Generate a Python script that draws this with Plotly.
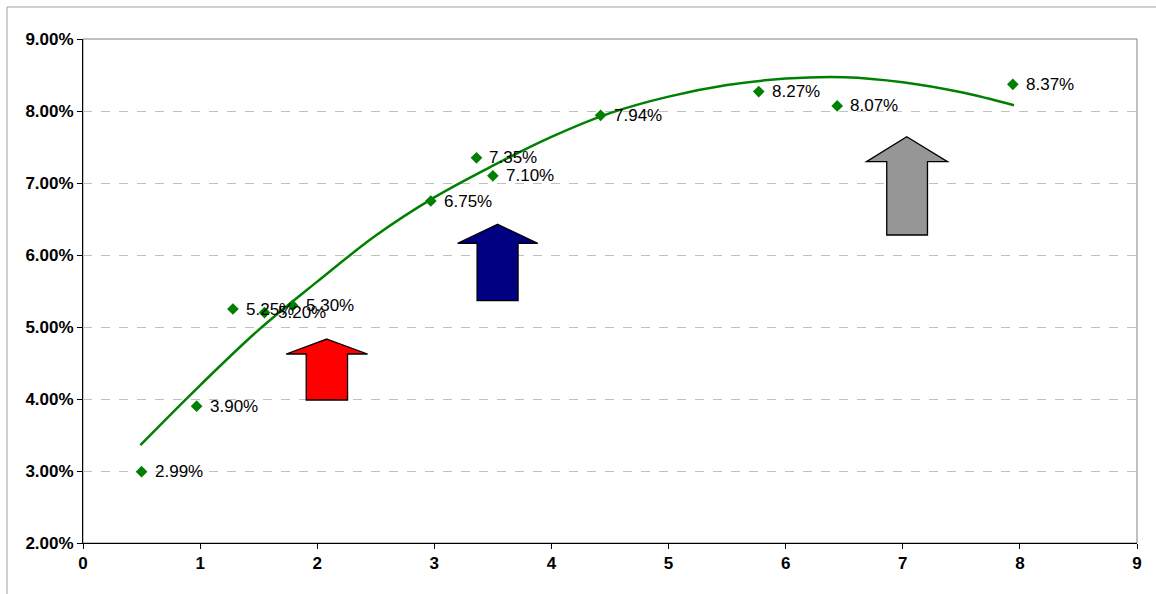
import plotly.graph_objects as go

# Observed data points
x_vals = [0.50, 0.97, 1.28, 1.55, 1.79, 2.97, 3.36, 3.50, 4.42, 5.77, 6.44, 7.94]
y_vals = [2.99, 3.90, 5.25, 5.20, 5.30, 6.75, 7.35, 7.10, 7.94, 8.27, 8.07, 8.37]
labels = ["2.99%", "3.90%", "5.25%", "5.20%", "5.30%", "6.75%", "7.35%", "7.10%",
          "7.94%", "8.27%", "8.07%", "8.37%"]

# Trendline
trend_x = [0.49, 1.0, 1.5, 2.0, 2.5, 3.0, 3.5, 4.0, 4.5, 5.0, 5.5, 6.0, 6.5, 7.0, 7.5, 7.95]
trend_y = [3.36, 4.19, 4.96, 5.63, 6.27, 6.80, 7.24, 7.64, 7.97, 8.20, 8.36, 8.45, 8.47, 8.40, 8.26, 8.08]

# Arrows: (left wing, shaft left, tip, shaft right, right wing), (tip y, wing y, bottom y), fill
arrows = [
    ([1.735, 1.906, 2.082, 2.259, 2.430], [4.833, 4.625, 3.986], "#FF0000"),
    ([3.199, 3.365, 3.541, 3.715, 3.883], [6.426, 6.163, 5.365], "#000080"),
    ([6.690, 6.863, 7.034, 7.211, 7.382], [7.643, 7.296, 6.278], "#969696"),
]

x_ticks = list(range(0, 10))
y_ticks = [2, 3, 4, 5, 6, 7, 8, 9]

fig = go.Figure()

fig.add_trace(go.Scatter(
    x=trend_x, y=trend_y, mode="lines",
    line=dict(color="#008000", width=2.5, shape="spline", smoothing=1.0),
    hoverinfo="skip", showlegend=False))

fig.add_trace(go.Scatter(
    x=x_vals, y=y_vals, mode="markers",
    marker=dict(symbol="diamond", color="#008000", size=9),
    showlegend=False))

annotations = []
for xv, yv, lab in zip(x_vals, y_vals, labels):
    annotations.append(dict(
        x=xv, y=yv, xref="x", yref="y", text=lab, showarrow=False,
        xanchor="left", yanchor="middle", xshift=11,
        font=dict(family="Liberation Sans, Arial", size=17, color="#000000")))

shapes = []
# plot area border (gray)
shapes.append(dict(type="rect", xref="paper", yref="paper", x0=0, y0=0, x1=1, y1=1,
                   line=dict(color="#808080", width=1), layer="below"))
# outer chart border (left and top), partially visible
shapes.append(dict(type="line", xref="paper", yref="paper", x0=-0.0721, x1=-0.0721, y0=-0.2, y1=1.0635,
                   line=dict(color="#A0A0A0", width=1)))
shapes.append(dict(type="line", xref="paper", yref="paper", x0=-0.0721, x1=1.2, y0=1.0635, y1=1.0635,
                   line=dict(color="#A0A0A0", width=1)))

for xs, ys, col in arrows:
    lw, sl, tip, sr, rw = xs
    ty, wy, by = ys
    path = (f"M {tip},{ty} L {rw},{wy} L {sr},{wy} L {sr},{by} "
            f"L {sl},{by} L {sl},{wy} L {lw},{wy} Z")
    shapes.append(dict(type="path", xref="x", yref="y", path=path,
                       fillcolor=col, line=dict(color="#000000", width=1.3), layer="above"))

fig.update_layout(
    width=1156, height=594,
    margin=dict(l=83, r=19, t=39, b=51),
    plot_bgcolor="white", paper_bgcolor="white",
    shapes=shapes, annotations=annotations,
    showlegend=False,
    font=dict(family="Liberation Sans, Arial", color="#000000"),
)

fig.update_xaxes(
    range=[0, 9], tickvals=x_ticks, ticktext=[str(t) for t in x_ticks],
    showgrid=False, zeroline=False,
    showline=True, linecolor="#000000", linewidth=1,
    ticks="outside", ticklen=5, tickcolor="#000000",
    tickfont=dict(family="Liberation Sans, Arial", size=17, color="#000000", weight="bold"),
)
fig.update_yaxes(
    range=[2, 9], tickvals=y_ticks, ticktext=[f"{t:.2f}%" for t in y_ticks],
    showgrid=True, gridcolor="#C0C0C0", griddash="dash", gridwidth=1,
    zeroline=False,
    showline=True, linecolor="#000000", linewidth=1,
    ticks="outside", ticklen=5, tickcolor="#000000",
    tickfont=dict(family="Liberation Sans, Arial", size=17, color="#000000", weight="bold"),
)

fig.write_html("out.html")
